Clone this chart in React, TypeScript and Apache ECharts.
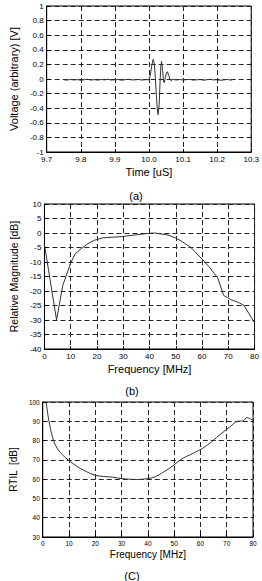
import React, { useEffect, useRef } from "react";
import * as echarts from "echarts";

// (a) time-domain pulse
const timeA = [
  9.75, 9.76, 9.77, 9.78, 9.79, 9.8, 9.81, 9.82, 9.83, 9.84, 9.85, 9.86, 9.87, 9.88, 9.89,
  9.9, 9.91, 9.92, 9.93, 9.94, 9.95, 9.96, 9.97, 9.98, 9.99, 10.0,
  10.004, 10.008, 10.0125, 10.016, 10.019, 10.022, 10.025, 10.027, 10.03, 10.033, 10.035,
  10.037, 10.04, 10.043, 10.045, 10.048, 10.051, 10.054, 10.058, 10.062, 10.066, 10.07,
  10.075, 10.08, 10.09, 10.1, 10.11, 10.12, 10.13, 10.14, 10.15, 10.16, 10.17, 10.18,
  10.19, 10.2, 10.21, 10.22, 10.23, 10.24, 10.245,
];
const voltA = [
  -0.01, -0.015, -0.006, -0.013, -0.008, -0.018, -0.01, -0.004, -0.014, -0.009, -0.016,
  -0.006, -0.012, -0.003, -0.015, -0.01, -0.007, -0.017, -0.009, -0.004, -0.013, -0.011,
  -0.006, -0.015, -0.009, -0.01,
  0.05, 0.18, 0.27, 0.2, 0.0, -0.25, -0.44, -0.49, -0.35, 0.0, 0.18,
  0.24, 0.12, -0.04, -0.05, 0.02, 0.08, 0.1, 0.05, -0.01, -0.025, 0.0,
  -0.01, -0.015, -0.006, -0.014, -0.009, -0.004, -0.016, -0.011, -0.007, -0.017, -0.01,
  -0.005, -0.013, -0.009, -0.018, -0.012, -0.006, -0.015, -0.012,
];

// (b) relative magnitude spectrum
const freqB = [0, 4.6, 7, 10, 11.7, 14, 16.5, 19, 22, 26.7, 30, 35, 40, 42, 47, 50, 52.5, 56, 60, 63, 66, 68.2, 71, 74, 76, 80];
const magB = [-4, -30, -18, -10.3, -7.2, -5.4, -3.7, -2.5, -1.7, -1.4, -1.2, -0.6, -0.1, 0, -0.7, -1.7, -3, -5.2, -9, -12, -15.5, -21.5, -23, -24, -25, -31];

// (c) RTIL
const freqC = [1.3, 2.3, 4.1, 6, 9.6, 14.4, 20, 26.6, 30, 36, 40, 42.4, 46, 49.6, 53, 55.7, 60.6, 64.2, 67.9, 71.5, 74, 76.3, 77.6, 78.8, 80];
const rtilC = [100, 90.5, 80, 75, 70, 65.5, 62, 61, 60.3, 59.8, 60.3, 61, 63.7, 67, 70.6, 72.4, 75.8, 79.3, 83.6, 87.4, 90, 90.2, 91.9, 91.4, 90.5];

const FONT = "Liberation Sans";

function axisCommon(fontSize: number) {
  return {
    axisLine: { show: true, onZero: false, lineStyle: { color: "#000", width: 1 } },
    axisTick: { show: true, inside: true, length: 3, lineStyle: { color: "#000" } },
    axisLabel: { color: "#000", fontSize, fontFamily: FONT, margin: 3 },
    splitLine: { show: true, lineStyle: { color: "#222", type: [5, 3], width: 1 } },
    nameLocation: "middle" as const,
    nameTextStyle: { color: "#000", fontFamily: FONT },
  };
}

export default function App() {
  const ref = useRef<HTMLDivElement>(null);
  useEffect(() => {
    if (!ref.current) return;
    const chart = echarts.init(ref.current, null, { renderer: "svg" });
    const gridStyle = { show: true, borderColor: "#000", borderWidth: 1, backgroundColor: "#fff" };
    const c8 = axisCommon(8);
    const c6 = axisCommon(6.5);
    chart.setOption({
      animation: false,
      backgroundColor: "#fff",
      title: [
        { text: "(a)", left: 131, top: 185, textAlign: "center", textStyle: { fontSize: 11, fontWeight: "normal", fontFamily: FONT, color: "#000" } },
        { text: "(b)", left: 127, top: 380, textAlign: "center", textStyle: { fontSize: 11, fontWeight: "normal", fontFamily: FONT, color: "#000" } },
        { text: "(C)", left: 127, top: 565, textAlign: "center", textStyle: { fontSize: 11, fontWeight: "normal", fontFamily: FONT, color: "#000" } },
      ],
      grid: [
        { left: 32, top: 6, width: 225, height: 146, ...gridStyle },
        { left: 32, top: 204, width: 223, height: 145, ...gridStyle },
        { left: 34, top: 402, width: 219, height: 135, ...gridStyle },
      ],
      xAxis: [
        {
          gridIndex: 0, type: "value", min: 9.7, max: 10.3, interval: 0.1, ...c8,
          axisLabel: { ...c8.axisLabel, formatter: (v: number) => v.toFixed(1) },
          name: "Time [uS]", nameGap: 14, nameTextStyle: { ...c8.nameTextStyle, fontSize: 11 },
        },
        {
          gridIndex: 1, type: "value", min: 0, max: 80, interval: 10, ...c8,
          name: "Frequency [MHz]", nameGap: 14, nameTextStyle: { ...c8.nameTextStyle, fontSize: 11 },
        },
        {
          gridIndex: 2, type: "value", min: 0, max: 80, interval: 10, ...c6,
          name: "Frequency [MHz]", nameGap: 12, nameTextStyle: { ...c6.nameTextStyle, fontSize: 10 },
        },
      ],
      yAxis: [
        {
          gridIndex: 0, type: "value", min: -1, max: 1, interval: 0.2, ...c8,
          axisLabel: { ...c8.axisLabel, formatter: (v: number) => String(Math.round(v * 10) / 10) },
          name: "Voltage (arbitrary) [V]", nameGap: 20, nameTextStyle: { ...c8.nameTextStyle, fontSize: 11 },
        },
        {
          gridIndex: 1, type: "value", min: -40, max: 10, interval: 5, ...c8,
          name: "Relative Magnitude [dB]", nameGap: 18, nameTextStyle: { ...c8.nameTextStyle, fontSize: 10.5 },
        },
        {
          gridIndex: 2, type: "value", min: 30, max: 100, interval: 10, ...c6,
          name: "RTIL  [dB]", nameGap: 17, nameTextStyle: { ...c6.nameTextStyle, fontSize: 10 },
        },
      ],
      series: [
        {
          type: "line", xAxisIndex: 0, yAxisIndex: 0, showSymbol: false,
          data: timeA.map((t, i) => [t, voltA[i]]),
          lineStyle: { color: "#333", width: 1 },
        },
        {
          type: "line", xAxisIndex: 1, yAxisIndex: 1, showSymbol: false,
          data: freqB.map((f, i) => [f, magB[i]]),
          lineStyle: { color: "#333", width: 1 },
        },
        {
          type: "line", xAxisIndex: 2, yAxisIndex: 2, showSymbol: false, smooth: 0.3,
          data: freqC.map((f, i) => [f, rtilC[i]]),
          lineStyle: { color: "#333", width: 1 },
        },
      ],
    });
    return () => chart.dispose();
  }, []);
  return <div ref={ref} style={{ position: "absolute", left: 0, top: 0, width: 262, height: 581 }} />;
}
